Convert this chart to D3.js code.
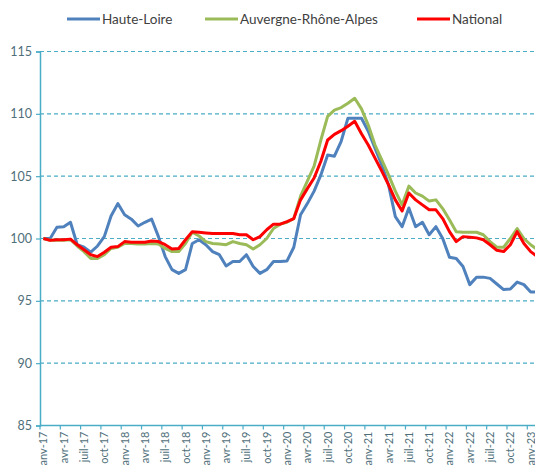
<!DOCTYPE html>
<html>
<head>
<meta charset="utf-8">
<script src="https://cdn.jsdelivr.net/npm/d3@7"></script>
<style>
  body { margin: 0; background: #fff; }
  svg { display: block; font-family: Lato, "Open Sans", sans-serif; }
</style>
</head>
<body>
<svg id="chart" width="535" height="465"></svg>
<script>
// mois affichés sur l'axe (janv, avr, juil, oct)
const mois = ["janv","févr","mars","avr","mai","juin","juil","août","sept","oct","nov","déc"];
const annees = ["17","18","19","20","21","22","23"];
const nbMois = 74; // janv-17 -> févr-23

const hauteLoire = [100.0,100.0,100.9,100.95,101.3,99.5,99.3,98.9,99.4,100.15,101.8,102.8,
  101.9,101.55,101.0,101.3,101.55,100.15,98.55,97.5,97.2,97.5,99.6,99.9,
  99.5,98.95,98.7,97.8,98.15,98.15,98.7,97.75,97.2,97.5,98.15,98.15,
  98.2,99.3,101.9,102.8,103.8,105.1,106.7,106.6,107.8,109.65,109.65,109.65,
  108.6,107.25,105.9,104.3,101.75,100.95,102.45,100.95,101.3,100.3,100.95,100.0,
  98.5,98.4,97.75,96.3,96.9,96.9,96.8,96.35,95.9,95.95,96.5,96.3,
  95.7,95.7];
const auvergneRA = [100.0,99.85,99.85,99.85,99.9,99.4,98.95,98.4,98.4,98.7,99.2,99.3,
  99.6,99.6,99.55,99.55,99.6,99.55,99.2,98.95,98.95,99.6,100.5,100.2,
  99.75,99.6,99.55,99.5,99.75,99.6,99.5,99.15,99.5,100.0,100.8,101.15,
  101.3,101.6,103.4,104.6,105.8,107.9,109.8,110.3,110.5,110.85,111.25,110.4,
  109.1,107.5,106.3,105.1,103.8,102.7,104.2,103.65,103.4,103.0,103.1,102.4,
  101.5,100.55,100.5,100.5,100.5,100.3,99.75,99.3,99.3,100.0,100.8,100.0,
  99.5,99.1];
const national = [100.0,99.85,99.9,99.9,99.95,99.5,99.1,98.7,98.55,98.9,99.3,99.35,
  99.75,99.7,99.7,99.7,99.8,99.75,99.5,99.15,99.2,99.9,100.55,100.5,
  100.45,100.4,100.4,100.4,100.4,100.3,100.3,99.9,100.15,100.7,101.15,101.15,
  101.35,101.6,103.1,104.0,104.85,106.2,107.9,108.35,108.65,109.0,109.4,108.4,
  107.5,106.45,105.4,104.3,103.1,102.2,103.65,103.1,102.7,102.3,102.3,101.6,
  100.55,99.75,100.15,100.1,100.05,99.9,99.5,99.05,98.95,99.5,100.55,99.6,
  98.95,98.55];
const yTicks = [85,90,95,100,105,110,115];

const categories = d3.range(nbMois).map(i => mois[i % 12] + "-" + annees[Math.floor(i / 12)]);

const series = [
  {nom: "Haute-Loire", valeurs: hauteLoire, couleur: "#4f81bd"},
  {nom: "Auvergne-Rhône-Alpes", valeurs: auvergneRA, couleur: "#9bbb59"},
  {nom: "National", valeurs: national, couleur: "#ff0000"}
];

const svg = d3.select("#chart"),
    axeCouleur = "#4bacc6", texteCouleur = "#4f6f7a";

const x = d3.scaleBand().domain(categories).range([40, 40 + nbMois * 6.768]),
    y = d3.scaleLinear().domain([85, 115]).range([425.5, 51.5]);

//grille horizontale pointillée
svg.append("g").selectAll("line").data(yTicks.filter(d => d > 85)).enter()
  .append("line")
    .attr("x1", 40).attr("x2", 535)
    .attr("y1", d => y(d)).attr("y2", d => y(d))
    .attr("stroke", axeCouleur)
    .attr("stroke-width", 1.2)
    .attr("stroke-dasharray", "4,3");

//axe Y
const gy = svg.append("g").attr("transform", "translate(40,0)")
  .call(d3.axisLeft(y).tickValues(yTicks).tickSize(4).tickPadding(4));
gy.select(".domain").attr("stroke", axeCouleur).attr("stroke-width", 1.5);
gy.selectAll(".tick line").attr("stroke", axeCouleur).attr("stroke-width", 1.2);
gy.selectAll("text").attr("fill", texteCouleur).style("font-size", "12.5px")
  .style("font-family", "Lato, sans-serif");

//axe X : graduations en début de trimestre
const gx = svg.append("g").attr("transform", "translate(0," + y(85) + ")");
gx.append("line").attr("x1", 40).attr("x2", 535)
  .attr("stroke", axeCouleur).attr("stroke-width", 1.5);
const trimestres = categories.filter((c, i) => i % 3 === 0);
gx.selectAll(".tk").data(trimestres).enter().append("line")
  .attr("class", "tk")
  .attr("x1", d => x(d)).attr("x2", d => x(d))
  .attr("y1", 0).attr("y2", 4)
  .attr("stroke", axeCouleur).attr("stroke-width", 1.2);
gx.selectAll("text").data(trimestres).enter().append("text")
  .attr("transform", d => "translate(" + (x(d) + x.bandwidth() / 2 + 4) + ",6) rotate(-90)")
  .attr("text-anchor", "end")
  .attr("fill", texteCouleur)
  .style("font-size", "11px")
  .text(d => d);

//courbes
const ligne = d3.line()
  .x((d, i) => x(categories[i]) + x.bandwidth() / 2)
  .y(d => y(d));

svg.append("g").selectAll("path").data(series).enter()
  .append("path")
    .attr("d", d => ligne(d.valeurs))
    .attr("fill", "none")
    .attr("stroke", d => d.couleur)
    .attr("stroke-width", 3)
    .attr("stroke-linejoin", "round");

//légende
const legX = [67, 205, 417];
const leg = svg.append("g").selectAll("g").data(series).enter()
  .append("g").attr("transform", (d, i) => "translate(" + legX[i] + ",19)");
leg.append("line").attr("x1", 0).attr("x2", 33)
  .attr("stroke", d => d.couleur).attr("stroke-width", 3);
leg.append("text").attr("x", 35).attr("y", 5)
  .attr("fill", "#404040").style("font-size", "13.5px")
  .text(d => d.nom);
</script>
</body>
</html>
